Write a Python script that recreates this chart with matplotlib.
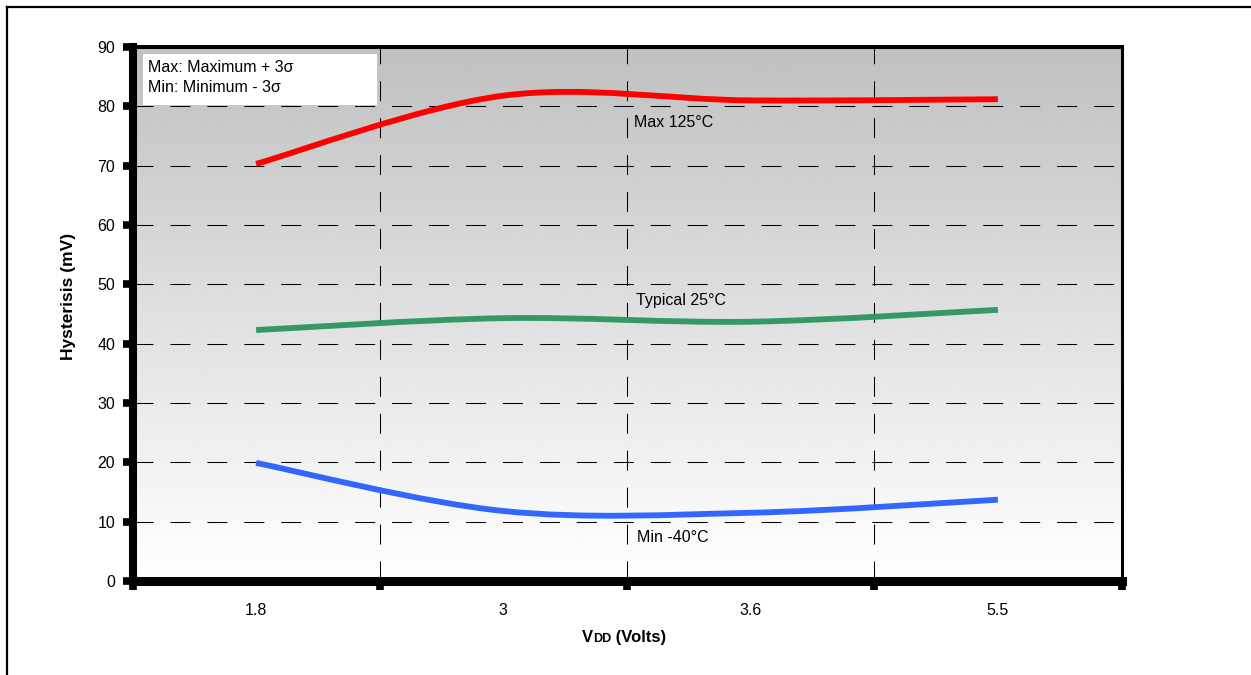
import numpy as np
import matplotlib
matplotlib.use('Agg')
import matplotlib.pyplot as plt
from matplotlib.path import Path
from matplotlib.patches import PathPatch, Rectangle
from matplotlib.lines import Line2D

# --- Data ---
VDD_LABELS = ['1.8', '3', '3.6', '5.5']
MAX_125C = [70.3, 81.8, 81.0, 81.2]
TYP_25C = [42.3, 44.3, 43.7, 45.7]
MIN_M40C = [19.9, 11.8, 11.5, 13.7]
Y_TICKS = list(range(0, 100, 10))

W, H = 1251, 675
plt.rcParams['font.family'] = ['Liberation Sans', 'DejaVu Sans']
plt.rcParams['lines.scale_dashes'] = False


def px(x, y):
    """pixel position (from top-left) -> figure fraction"""
    return x / W, 1 - y / H


def smooth_path(xs, ys):
    # Catmull-Rom style bezier, like the smoothed lines of a spreadsheet chart
    pts = np.column_stack([xs, ys]).astype(float)
    n = len(pts)
    verts = [pts[0]]
    codes = [Path.MOVETO]
    for i in range(n - 1):
        p0 = pts[max(i - 1, 0)]
        p1 = pts[i]
        p2 = pts[i + 1]
        p3 = pts[min(i + 2, n - 1)]
        verts += [p1 + (p2 - p0) / 6, p2 - (p3 - p1) / 6, p2]
        codes += [Path.CURVE4] * 3
    return Path(verts, codes)


fig = plt.figure(figsize=(W / 100, H / 100), dpi=100)
left, right = 132.5 / W, 1121.5 / W
bottom, top = (H - 581) / H, (H - 47) / H
ax = fig.add_axes([left, bottom, right - left, top - bottom])

# gray-to-white background
grad = np.linspace(192, 255, 256).reshape(-1, 1)
ax.imshow(grad, cmap='gray', vmin=0, vmax=255, extent=[0, 1, 0, 1],
          transform=ax.transAxes, aspect='auto', zorder=0)

x = np.arange(len(VDD_LABELS))
series = [(MAX_125C, '#ff0000'), (TYP_25C, '#339966'), (MIN_M40C, '#3366ff')]
for ys, col in series:
    ax.add_patch(PathPatch(smooth_path(x, ys), fill=False, edgecolor=col,
                           lw=4.2, capstyle='butt', zorder=3))

ax.set_xlim(-0.5, len(VDD_LABELS) - 0.5)
ax.set_ylim(0, 90)

# category boundaries carry the ticks and gridlines, labels sit in the middle
ax.set_xticks(np.arange(-0.5, len(VDD_LABELS), 1.0))
ax.set_xticklabels([])
ax.set_xticks(x, minor=True)
ax.set_xticklabels(VDD_LABELS, minor=True)
ax.set_yticks(Y_TICKS)
ax.set_yticklabels([str(v) for v in Y_TICKS])

ax.tick_params(axis='x', which='major', direction='out', length=6.5, width=5.5)
ax.tick_params(axis='x', which='minor', length=0, pad=16, labelsize=11.5)
ax.tick_params(axis='y', which='major', direction='out', length=7, width=5.5,
               pad=5.5, labelsize=11.5)

ax.set_axisbelow(True)
ax.grid(True, which='major', color='black', lw=0.75,
        linestyle=(0, (14.4, 12.2)))

for side, lw in [('left', 5.8), ('bottom', 6.5), ('top', 2.9), ('right', 2.2)]:
    ax.spines[side].set_linewidth(lw)
    ax.spines[side].set_color('black')

# curve labels
ax.text(1.528, 77.2, 'Max 125°C', fontsize=11.5, va='center', ha='left', zorder=5)
ax.text(1.536, 47.2, 'Typical 25°C', fontsize=11.5, va='center', ha='left', zorder=5)
ax.text(1.540, 7.25, 'Min -40°C', fontsize=11.5, va='center', ha='left', zorder=5)

# note box in the upper left
x0, y0 = px(143, 105)
x1, y1 = px(377, 54)
fig.add_artist(Rectangle((x0, y0), x1 - x0, y1 - y0, transform=fig.transFigure,
                         facecolor='white', edgecolor='none', zorder=4))
fig.text(*px(148, 68), 'Max: Maximum + 3σ', fontsize=11.5, va='center', zorder=5)
fig.text(*px(148, 88), 'Min: Minimum - 3σ', fontsize=11.5, va='center', zorder=5)

# axis titles
fig.text(*px(68, 296), 'Hysterisis (mV)', rotation=90, fontsize=12.5,
         fontweight='bold', ha='center', va='center')

renderer = fig.canvas.get_renderer()
xpos, ybase = px(582, 642)
for txt, size in [('V', 12), ('DD', 9), (' (Volts)', 12)]:
    t = fig.text(xpos, ybase, txt, fontsize=size, fontweight='bold',
                 ha='left', va='baseline')
    xpos += t.get_window_extent(renderer).width / W

# outer frame of the page figure
fig.add_artist(Line2D([7 / W, 7 / W], [0, 1 - 7 / H], transform=fig.transFigure,
                      color='black', lw=1.6))
fig.add_artist(Line2D([7 / W, 1], [1 - 7 / H, 1 - 7 / H], transform=fig.transFigure,
                      color='black', lw=1.6))

fig.savefig('out.png', dpi=100)
